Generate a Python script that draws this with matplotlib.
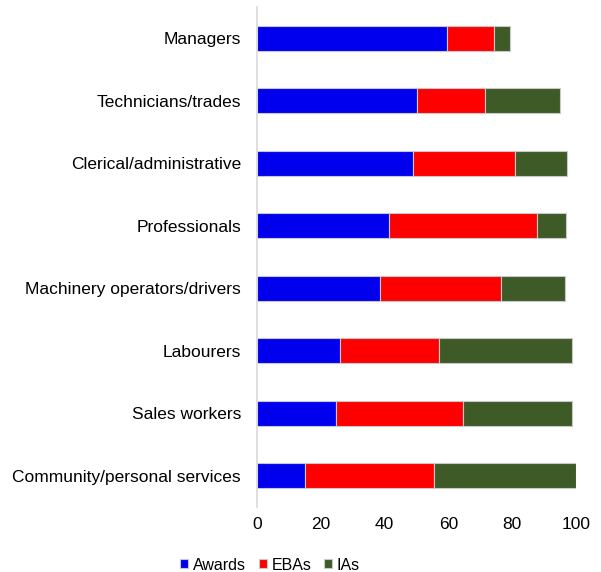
import matplotlib.pyplot as plt
import numpy as np

plt.rcParams['font.family'] = ['Liberation Sans', 'DejaVu Sans']

categories = ["Managers", "Technicians/trades", "Clerical/administrative", "Professionals",
              "Machinery operators/drivers", "Labourers", "Sales workers",
              "Community/personal services"]
awards = [59.7, 50.2, 49.0, 41.4, 38.5, 25.9, 24.9, 14.9]
ebas = [14.7, 21.4, 31.8, 46.5, 38.1, 31.0, 39.8, 40.5]
ias = [4.9, 23.5, 16.3, 8.9, 20.0, 41.8, 34.1, 44.6]

series = [("Awards", awards, "#0000EE"), ("EBAs", ebas, "#FF0000"), ("IAs", ias, "#3D5A27")]

fig = plt.figure(figsize=(6.01, 5.72), dpi=100)
ax = fig.add_axes([257/601, 1 - 507/572, (576 - 257)/601, 500/572])

y = np.arange(len(categories))
left = np.zeros(len(categories))
for name, vals, col in series:
    ax.barh(y, vals, left=left, height=0.4, color=col, edgecolor='#c8c8c8', linewidth=0.8, label=name)
    left += np.array(vals)

ax.set_xlim(0, 100)
ax.set_ylim(7.5, -0.5)
ax.set_yticks(y)
ax.set_yticklabels(categories, fontsize=12.5)
ax.set_xticks([0, 20, 40, 60, 80, 100])
ax.tick_params(axis='x', length=0, labelsize=12.5, pad=7)
ax.tick_params(axis='y', length=0, pad=11.5)
for s in ['top', 'right', 'bottom']:
    ax.spines[s].set_visible(False)
ax.spines['left'].set_color('#d9d9d9')
ax.spines['left'].set_linewidth(1.2)

handles, labels = ax.get_legend_handles_labels()
fig.legend(handles, labels, loc='center', bbox_to_anchor=(270/601, 1 - 565/572), ncol=3, frameon=False,
           fontsize=11.5, handlelength=0.5, handleheight=0.5, handletextpad=0.3, columnspacing=0.8)

fig.savefig("out.png", dpi=100)
